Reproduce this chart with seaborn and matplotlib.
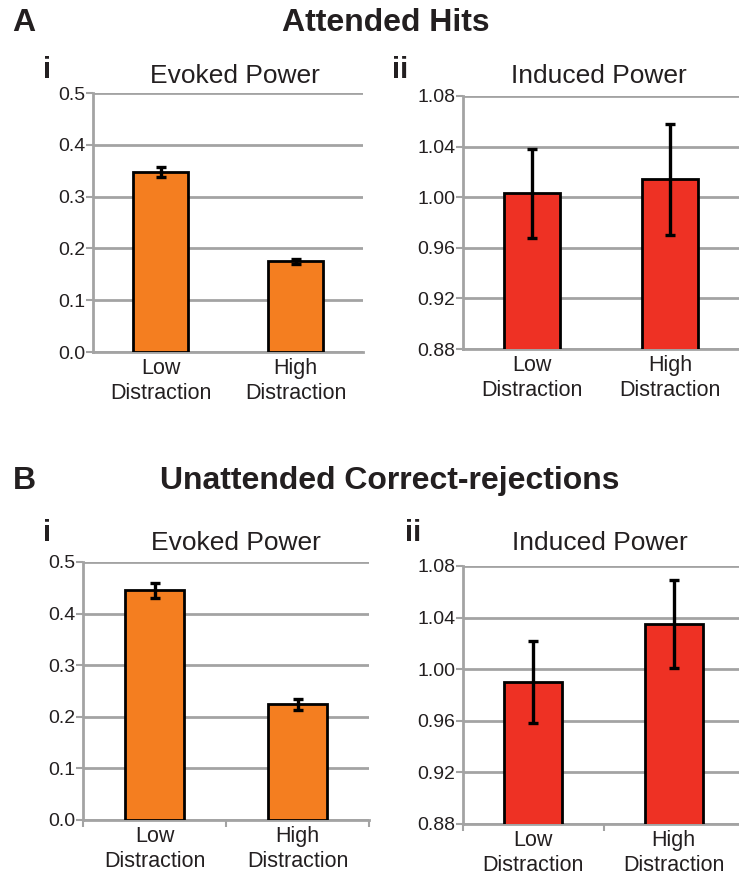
import numpy as np
import pandas as pd
import matplotlib
matplotlib.use("Agg")
import matplotlib.pyplot as plt
import seaborn as sns
from matplotlib.ticker import FixedLocator

sns.set_theme(style="white")
plt.rcParams["font.family"] = ["Liberation Sans", "DejaVu Sans"]

categories = ["Low\nDistraction", "High\nDistraction"]

# Attended hits
a_evoked = [0.347, 0.175]
a_evoked_err = [0.010, 0.005]
a_induced = [1.003, 1.014]
a_induced_err = [0.035, 0.044]

# Unattended correct-rejections
b_evoked = [0.445, 0.224]
b_evoked_err = [0.015, 0.011]
b_induced = [0.990, 1.035]
b_induced_err = [0.032, 0.034]

evoked_ticks = [0.0, 0.1, 0.2, 0.3, 0.4, 0.5]
evoked_labels = ["0.0", "0.1", "0.2", "0.3", "0.4", "0.5"]
induced_ticks = [0.88, 0.92, 0.96, 1.00, 1.04, 1.08]
induced_labels = ["0.88", "0.92", "0.96", "1.00", "1.04", "1.08"]

ORANGE = "#F47E20"
RED = "#EE3124"
GRID = "#A3A3A3"
TEXT = "#231F20"

W, H = 739, 875
fig = plt.figure(figsize=(W / 100, H / 100), dpi=100)


def px_axes(left, right, top, bottom):
    return fig.add_axes([left / W, 1 - bottom / H, (right - left) / W, (bottom - top) / H])


def panel(ax, values, errs, color, ticks, labels, sep_ticks):
    df = pd.DataFrame({"cond": categories, "val": values})
    sns.barplot(data=df, x="cond", y="val", color=color, saturation=1,
                width=0.41, edgecolor="black", linewidth=2.0,
                errorbar=None, ax=ax, zorder=3)
    ax.errorbar(x=np.arange(len(values)), y=values, yerr=errs, fmt="none",
                ecolor="black", elinewidth=2.4, capsize=3.5, capthick=2.4, zorder=4)
    ax.set_ylim(ticks[0], ticks[-1])
    ax.set_xlim(-0.5, len(values) - 0.5)
    ax.set_yticks(ticks)
    ax.set_yticklabels(labels)
    ax.yaxis.grid(True, color=GRID, linewidth=2.0, zorder=0)
    ax.set_axisbelow(True)
    ax.set_xlabel("")
    ax.set_ylabel("")
    for s in ["top", "right"]:
        ax.spines[s].set_visible(False)
    for s in ["left", "bottom"]:
        ax.spines[s].set_color(GRID)
        ax.spines[s].set_linewidth(2.0)
        ax.spines[s].set_zorder(1)
    ax.tick_params(axis="y", which="major", length=5, width=1.5, color=GRID,
                   labelsize=14, labelcolor=TEXT, pad=0.5, left=True)
    ax.tick_params(axis="x", which="major", length=0, labelsize=15.5,
                   labelcolor=TEXT, pad=4)
    if sep_ticks:
        ax.xaxis.set_minor_locator(FixedLocator([-0.5, 0.5, 1.5]))
        ax.tick_params(axis="x", which="minor", length=5, width=1.5,
                       color=GRID, bottom=True)
    for t in ax.get_xticklabels():
        t.set_linespacing(1.3)


ax1 = px_axes(93, 363, 93, 352)
panel(ax1, a_evoked, a_evoked_err, ORANGE, evoked_ticks, evoked_labels, False)
ax2 = px_axes(463, 739, 96, 349)
panel(ax2, a_induced, a_induced_err, RED, induced_ticks, induced_labels, False)
ax3 = px_axes(83, 369, 562, 820)
panel(ax3, b_evoked, b_evoked_err, ORANGE, evoked_ticks, evoked_labels, True)
ax4 = px_axes(463, 744, 566, 824)
panel(ax4, b_induced, b_induced_err, RED, induced_ticks, induced_labels, True)


def ftext(x, y, s, **kw):
    fig.text(x / W, 1 - y / H, s, ha="center", va="center", color=TEXT, **kw)


ftext(24, 23, "A", fontsize=23, fontweight="bold")
ftext(386, 23, "Attended Hits", fontsize=23, fontweight="bold")
ftext(24, 481, "B", fontsize=23, fontweight="bold")
ftext(390, 481, "Unattended Correct-rejections", fontsize=23, fontweight="bold")

ftext(47, 70, "i", fontsize=21, fontweight="bold")
ftext(400, 70, "ii", fontsize=21, fontweight="bold")
ftext(47, 533, "i", fontsize=21, fontweight="bold")
ftext(413, 533, "ii", fontsize=21, fontweight="bold")

ftext(235, 76, "Evoked Power", fontsize=19)
ftext(599, 76, "Induced Power", fontsize=19)
ftext(236, 543, "Evoked Power", fontsize=19)
ftext(600, 543, "Induced Power", fontsize=19)

fig.savefig("out.png", dpi=100, facecolor="white")
